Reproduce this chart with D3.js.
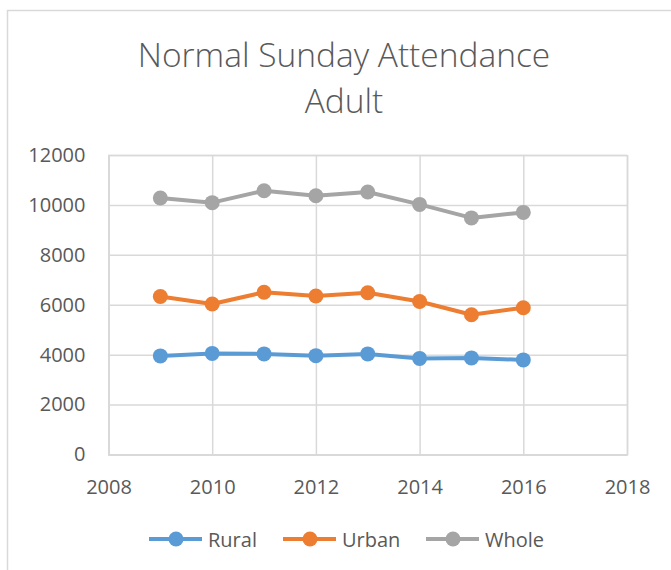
<!DOCTYPE html>
<html>
<head>
<meta charset="utf-8">
<script src="https://cdn.jsdelivr.net/npm/d3@7"></script>
<style>
  body { margin: 0; background: #fff; }
  svg { display: block; font-family: "Open Sans", sans-serif; }
</style>
</head>
<body>
<div id="chart"></div>
<script>
//years on the x axis and the three attendance series
var years = [2009, 2010, 2011, 2012, 2013, 2014, 2015, 2016];
var rural = [3950, 4050, 4030, 3960, 4030, 3850, 3870, 3790];
var urban = [6330, 6030, 6500, 6350, 6480, 6130, 5600, 5880];
var whole = [10280, 10090, 10570, 10370, 10520, 10020, 9480, 9700];
var seriesNames = ['Rural', 'Urban', 'Whole'];
var xTicks = [2008, 2010, 2012, 2014, 2016, 2018];
var yTicks = [0, 2000, 4000, 6000, 8000, 10000, 12000];

var colors = ['#5b9bd5', '#ed7d31', '#a5a5a5'];
var seriesValues = [rural, urban, whole];

//size of the page and the plot box inside it
var width = 671;
var height = 570;
var margin = { top: 155, bottom: 115.5, left: 108.5, right: 44 };

var svg = d3.select('#chart')
  .append('svg')
  .attr('width', width)
  .attr('height', height);

//light frame round the chart, it runs off the right and bottom edge
svg.append('rect')
  .attr('x', 7.5)
  .attr('y', 10.5)
  .attr('width', width + 20)
  .attr('height', height + 20)
  .attr('fill', 'none')
  .attr('stroke', '#d9d9d9')
  .attr('stroke-width', 1.5);

var x = d3.scaleLinear()
  .domain([2008, 2018])
  .range([margin.left, width - margin.right]);

var y = d3.scaleLinear()
  .domain([0, 12000])
  .range([height - margin.bottom, margin.top]);

//title on two lines
var title = svg.append('text')
  .attr('text-anchor', 'middle')
  .attr('fill', '#595959')
  .attr('font-size', '33.5px')
  .attr('font-weight', 300);
title.append('tspan').attr('x', 344).attr('y', 67).text('Normal Sunday Attendance');
title.append('tspan').attr('x', 344).attr('y', 113).text('Adult');

//horizontal gridlines with the value labels
function yAxis(g) {
  g.attr('transform', `translate(${margin.left}, 0)`)
    .call(d3.axisLeft(y).tickValues(yTicks).tickFormat(d3.format('d'))
      .tickSize(-(width - margin.left - margin.right)).tickPadding(23))
    .call(g => g.select('.domain').attr('stroke', '#d9d9d9').attr('stroke-width', 1.5))
    .call(g => g.selectAll('.tick line').attr('stroke', '#d9d9d9').attr('stroke-width', 1.5))
    .call(g => g.selectAll('.tick text').attr('fill', '#595959').attr('font-size', '20px')
      .attr('font-family', '"Open Sans", sans-serif'));
}

//vertical gridlines with the year labels
function xAxis(g) {
  g.attr('transform', `translate(0, ${height - margin.bottom})`)
    .call(d3.axisBottom(x).tickValues(xTicks).tickFormat(d3.format('d'))
      .tickSize(-(height - margin.top - margin.bottom)).tickPadding(25))
    .call(g => g.select('.domain').attr('stroke', '#d9d9d9').attr('stroke-width', 1.5))
    .call(g => g.selectAll('.tick line').attr('stroke', '#d9d9d9').attr('stroke-width', 1.5))
    .call(g => g.selectAll('.tick text').attr('fill', '#595959').attr('font-size', '20px')
      .attr('font-family', '"Open Sans", sans-serif'));
}

svg.append('g').call(yAxis);
svg.append('g').call(xAxis);

var line = d3.line()
  .x((d, i) => x(years[i]))
  .y(d => y(d));

//one line with round markers per series
seriesValues.forEach(function (vals, s) {
  var g = svg.append('g');
  g.append('path')
    .attr('d', line(vals))
    .attr('fill', 'none')
    .attr('stroke', colors[s])
    .attr('stroke-width', 4)
    .attr('stroke-linejoin', 'round');
  g.selectAll('circle')
    .data(vals)
    .join('circle')
    .attr('cx', (d, i) => x(years[i]))
    .attr('cy', d => y(d))
    .attr('r', 7.5)
    .attr('fill', colors[s]);
});

//legend under the chart
var legendX = [149, 283, 426];
var legend = svg.append('g')
  .selectAll('g')
  .data(seriesNames)
  .join('g')
  .attr('transform', (d, i) => `translate(${legendX[i]}, 539)`);

legend.append('line')
  .attr('x1', 0)
  .attr('x2', 53)
  .attr('stroke', (d, i) => colors[i])
  .attr('stroke-width', 4);

legend.append('circle')
  .attr('cx', 27)
  .attr('r', 7.5)
  .attr('fill', (d, i) => colors[i]);

legend.append('text')
  .attr('x', 59)
  .attr('y', 8)
  .attr('fill', '#595959')
  .attr('font-size', '20px')
  .text(d => d);
</script>
</body>
</html>
